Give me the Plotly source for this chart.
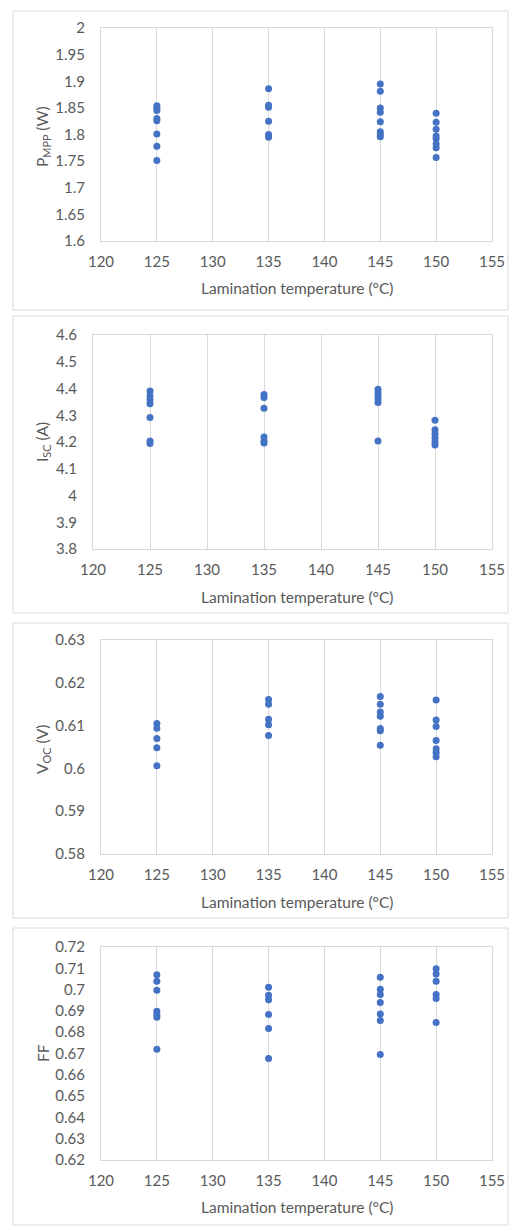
import plotly.graph_objects as go

W, H = 509, 1226

# ---- data ----
temps = [125, 135, 145, 150]

pmpp_125 = [1.854, 1.849, 1.845, 1.830, 1.826, 1.801, 1.778, 1.751]
pmpp_135 = [1.886, 1.855, 1.851, 1.825, 1.800, 1.795]
pmpp_145 = [1.895, 1.881, 1.850, 1.842, 1.824, 1.805, 1.800, 1.796]
pmpp_150 = [1.840, 1.823, 1.810, 1.797, 1.792, 1.782, 1.775, 1.757]

isc_125 = [4.391, 4.373, 4.358, 4.343, 4.292, 4.204, 4.194]
isc_135 = [4.378, 4.366, 4.326, 4.219, 4.204, 4.196]
isc_145 = [4.397, 4.386, 4.373, 4.361, 4.348, 4.204]
isc_150 = [4.281, 4.246, 4.231, 4.216, 4.201, 4.189]

voc_125 = [0.6105, 0.6094, 0.6070, 0.6048, 0.6006]
voc_135 = [0.6161, 0.6150, 0.6115, 0.6102, 0.6077]
voc_145 = [0.6168, 0.6150, 0.6132, 0.6122, 0.6093, 0.6088, 0.6054]
voc_150 = [0.6160, 0.6113, 0.6098, 0.6065, 0.6046, 0.6037, 0.6027]

ff_125 = [0.7070, 0.7039, 0.6997, 0.6898, 0.6883, 0.6870, 0.6720]
ff_135 = [0.7011, 0.6973, 0.6952, 0.6883, 0.6817, 0.6677]
ff_145 = [0.7058, 0.7002, 0.6977, 0.6939, 0.6886, 0.6855, 0.6695]
ff_150 = [0.7098, 0.7073, 0.7039, 0.6977, 0.6958, 0.6845]

x_title = "Lamination temperature (°C)"
y_titles = ["P<sub>MPP</sub> (W)", "I<sub>SC</sub> (A)", "V<sub>OC</sub> (V)", "FF"]
y_ranges = [(1.6, 2.0, 0.05), (3.8, 4.6, 0.1), (0.58, 0.63, 0.01), (0.62, 0.72, 0.01)]
x_range = (120, 155, 5)

series = [
    [pmpp_125, pmpp_135, pmpp_145, pmpp_150],
    [isc_125, isc_135, isc_145, isc_150],
    [voc_125, voc_135, voc_145, voc_150],
    [ff_125, ff_135, ff_145, ff_150],
]

# ---- layout geometry (pixels) ----
panels = [  # (frame_top, frame_bottom, plot_left, plot_top, plot_bottom, ytitle_y, xtitle_y)
    (11, 310, 101, 28, 241, 137, 288),
    (316, 613, 93, 335, 549, 442, 597),
    (623, 918, 101, 640, 854, 750, 902),
    (928, 1225, 101, 947, 1160, 1053, 1207),
]
plot_right = 492

def px(x):
    return x / W

def py(y):
    return 1 - y / H

FONT = "Lato, 'Open Sans', sans-serif"
GRAY = "#595959"
LINE = "#d9d9d9"
BLUE = "#4472C4"

fig = go.Figure()
shapes = []
annotations = []

for i, (ft, fb, pl, pt, pb, yty, xty) in enumerate(panels):
    n = "" if i == 0 else str(i + 1)
    xa, ya = "x" + n, "y" + n
    xs, ys = [], []
    for t, vals in zip(temps, series[i]):
        xs += [t] * len(vals)
        ys += vals
    fig.add_trace(go.Scatter(x=xs, y=ys, mode="markers", xaxis=xa, yaxis=ya,
                             marker=dict(color=BLUE, size=7), showlegend=False))
    y0, y1, dy = y_ranges[i]
    fig.layout["xaxis" + n] = dict(
        domain=[px(pl), px(plot_right)], anchor=ya, range=[x_range[0], x_range[1]],
        dtick=x_range[2], tick0=120, showgrid=True, gridcolor=LINE, gridwidth=1,
        showline=True, linecolor=LINE, mirror=True, zeroline=False, automargin=False,
        ticks="outside", ticklen=7, tickcolor="rgba(0,0,0,0)",
        tickfont=dict(family=FONT, size=15, color=GRAY),
    )
    fig.layout["yaxis" + n] = dict(
        domain=[py(pb), py(pt)], anchor=xa, range=[y0, y1], dtick=dy, tick0=y0,
        showgrid=False, showline=True, linecolor=LINE, mirror=True, zeroline=False,
        automargin=False,
        ticks="outside", ticklen=12, tickcolor="rgba(0,0,0,0)",
        tickfont=dict(family=FONT, size=15, color=GRAY),
    )
    shapes.append(dict(type="rect", xref="paper", yref="paper",
                       x0=px(13), x1=px(508), y0=py(fb), y1=py(ft),
                       line=dict(color=LINE, width=1), layer="below"))
    annotations.append(dict(text=y_titles[i], xref="paper", yref="paper",
                            x=px(43), y=py(yty), textangle=-90, showarrow=False,
                            xanchor="center", yanchor="middle",
                            font=dict(family=FONT, size=15.5, color=GRAY)))
    annotations.append(dict(text=x_title, xref="paper", yref="paper",
                            x=px(297), y=py(xty), showarrow=False,
                            xanchor="center", yanchor="middle",
                            font=dict(family=FONT, size=15.5, color=GRAY)))

fig.update_layout(width=W, height=H, margin=dict(l=0, r=0, t=0, b=0, pad=0),
                  paper_bgcolor="white", plot_bgcolor="white",
                  shapes=shapes, annotations=annotations)

fig.write_html("out.html", config={"displayModeBar": False},
               post_script="document.body.style.margin='0';document.body.style.overflow='hidden';")
